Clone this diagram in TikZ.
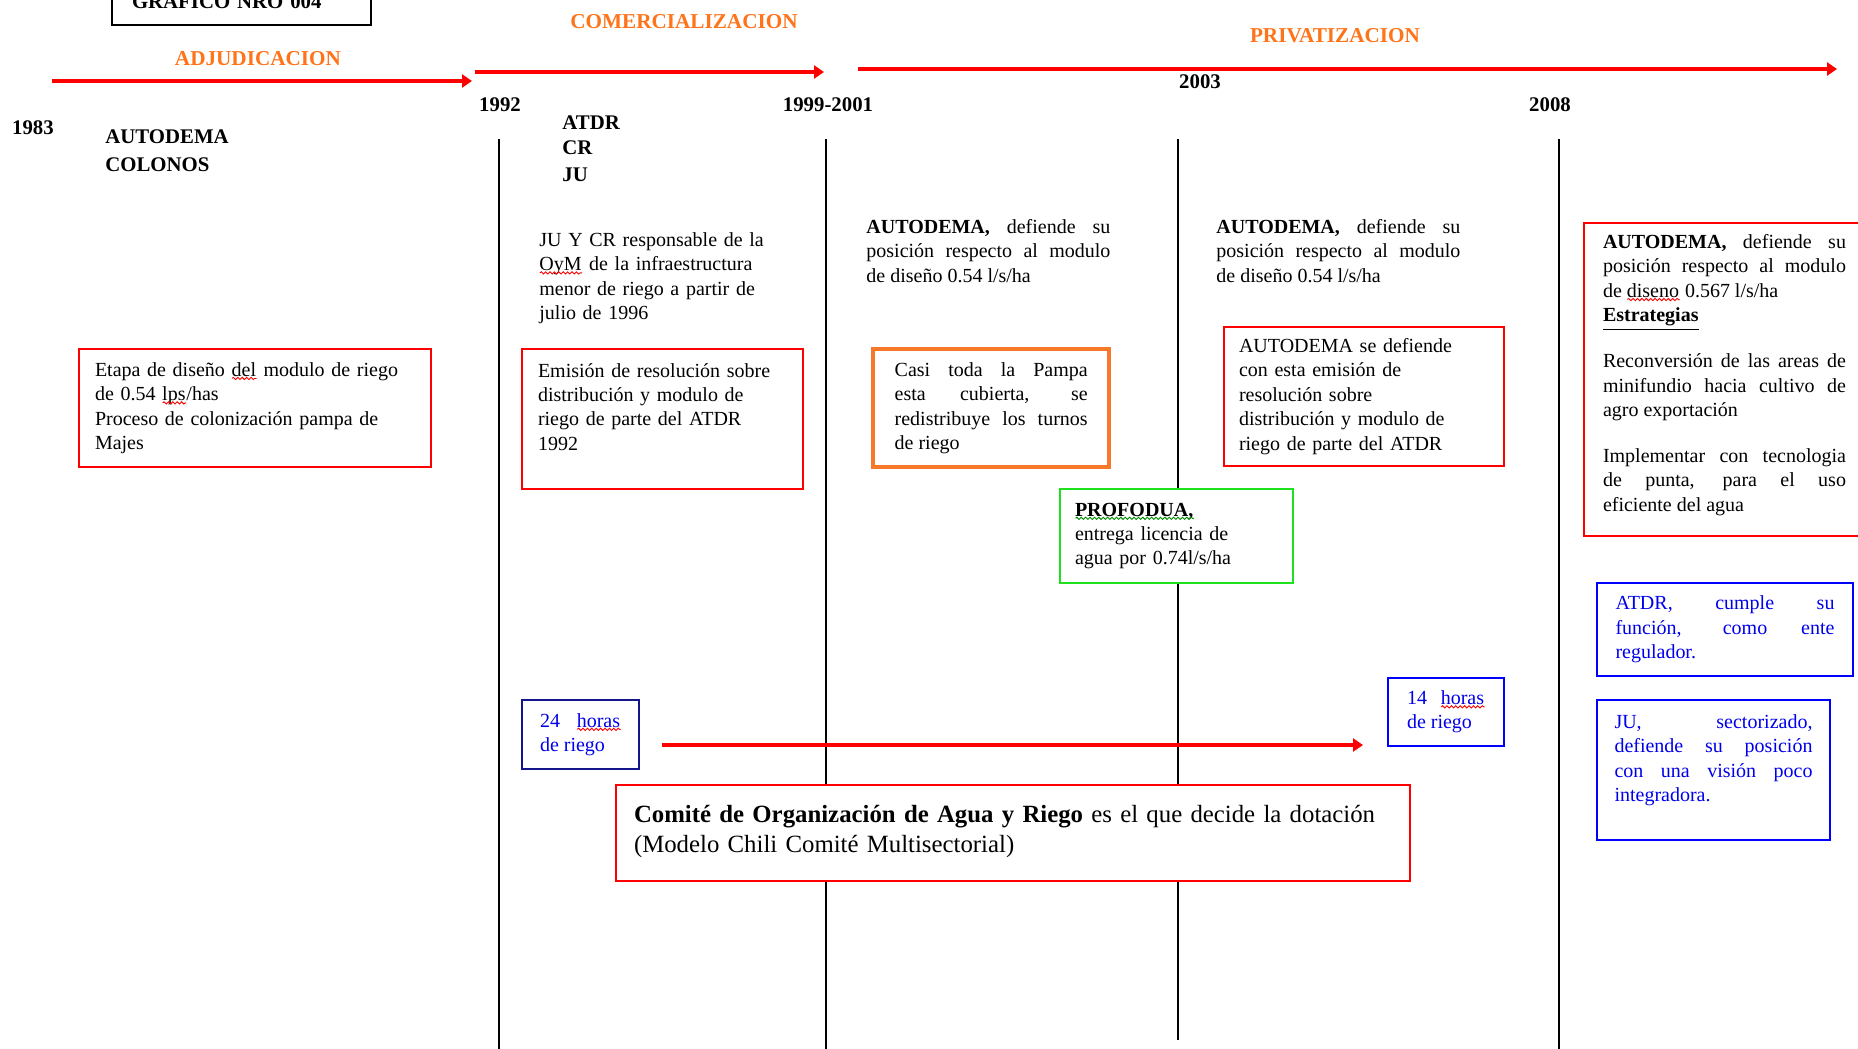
\documentclass[tikz,border=0pt]{standalone}
\usepackage{fontspec}
\setmainfont{Liberation Serif}
\usetikzlibrary{calc,arrows.meta,decorations.pathmorphing}

\definecolor{naranja}{RGB}{255,115,25}
\definecolor{borde}{RGB}{247,120,40}
\definecolor{verde}{RGB}{30,225,30}
\definecolor{azul}{RGB}{0,0,235}
\definecolor{marino}{RGB}{20,20,140}

%% wavy spell-check marks
\newlength\wavelen
\newcommand\wavy[2]{\leavevmode\settowidth\wavelen{#2}\rlap{#2}\raisebox{-1.9pt}[0pt][0pt]{\tikz\draw[#1,line width=.45pt,decorate,
    decoration={snake,amplitude=.55pt,segment length=2.2pt}] (0pt,0pt) -- (\wavelen,0pt);}}
\newcommand\wavered[1]{\wavy{red}{#1}}
\newcommand\wavegreen[1]{\wavy{green!55!black}{#1}}
\hbadness=10000
\hyphenpenalty=10000
\exhyphenpenalty=10000

\begin{document}
\begin{tikzpicture}[x=0.5pt,y=-0.5pt,
    txt/.style={font=\fontsize{10}{12.2}\selectfont,inner sep=0pt,anchor=north west},
    caja/.style={txt,draw=#1,fill=white,line width=1pt,inner xsep=9.5pt},
    fase/.style={draw=red,line width=1.8pt,-{Triangle[length=5pt,width=6.5pt]}},
    etapa/.style={font=\fontsize{10.6}{12}\selectfont\bfseries,text=naranja,inner sep=0pt},
    anio/.style={font=\fontsize{10.4}{12}\selectfont\bfseries,inner sep=0pt},
    actor/.style={anio,anchor=west}]

  \useasboundingbox (0,0) rectangle (1858,1049);

  %% Title box (cut by the page top)
  \node[draw,line width=1pt,anchor=south west,minimum height=23pt,text width=109.5pt,
        inner xsep=10pt,align=left,font=\fontsize{10.4}{12}\selectfont\bfseries] (grafico) at (111,26) {GRAFICO NRO 004};

  %% Phases and their arrows
  \node[etapa] (adjudicacion) at (258,59) {ADJUDICACION};
  \node[etapa] (comercializacion) at (684,22) {COMERCIALIZACION};
  \node[etapa] (privatizacion) at (1335,36) {PRIVATIZACION};
  \foreach \n/\xa/\xb/\y/\w in {1/52/472/81/1.8,2/475/824/72/1.8,3/858/1837/69/2.2}{
    \coordinate (s\n) at (\xa,\y);
    \coordinate (e\n) at (\xb,\y);
    \draw[fase,line width=\w pt] (s\n) -- (e\n);
  }

  %% Years
  \foreach \t/\x/\y in {1983/33/128,1992/500/105,1999-2001/828/105,2003/1200/82,2008/1550/105}{
    \node[anio] (y\t) at (\x,\y) {\t};
  }

  %% Actors
  \foreach \t/\x/\y in {AUTODEMA/105/137,COLONOS/105/165,ATDR/562/123,CR/562/148,JU/562/175}{
    \node[actor] (\t) at (\x,\y) {\t};
  }

  %% Vertical year lines
  \foreach \x/\y in {499/1049,826/1049,1178/1040,1559/1049}{
    \draw[line width=1pt] (\x,139) -- (\x,\y);
  }

  %% Texts without frame
  \node[txt,text width=122pt,align=left] (jucr) at (539,232) {JU Y CR responsable de la\\\wavered{OyM} de la infraestructura\\menor de riego a partir de\\julio de 1996};
  \node[txt,text width=122pt,align=justify] (modulo1) at (866,219) {\textbf{AUTODEMA,} defiende su\linebreak posición respecto al modulo\linebreak de diseño 0.54 l/s/ha};
  \node[txt,text width=122pt,align=justify] (modulo2) at (1216,219) {\textbf{AUTODEMA,} defiende su\linebreak posición respecto al modulo\linebreak de diseño 0.54 l/s/ha};

  %% Framed boxes
  \node[caja=red,text width=160pt,minimum height=59pt,inner xsep=8pt,align=left] (etapa) at (78,348) {Etapa de diseño \wavered{del} modulo de riego\\de 0.54 \wavered{lps}/has\\Proceso de colonización pampa de\\Majes};
  \node[caja=red,text width=124.5pt,inner xsep=8pt,inner ysep=6pt,text height=8pt,text depth=50pt,align=left] (emision) at (521,348) {Emisión de resolución sobre\\distribución y modulo de\\riego de parte del ATDR\\1992};
  \node[caja=borde,line width=2.2pt,text width=96.5pt,minimum height=59pt,inner xsep=10.75pt,align=justify] (pampa) at (871,347) {Casi toda la Pampa\linebreak esta cubierta, se\linebreak redistribuye los turnos\linebreak de riego};
  \node[caja=red,text width=125pt,minimum height=69.5pt,inner xsep=7.5pt,align=left] (defiende) at (1223,326) {AUTODEMA se defiende\\con esta emisión de\\resolución sobre\\distribución y modulo de\\riego de parte del ATDR};
  \node[caja=verde,text width=101.5pt,minimum height=47pt,inner xsep=7.5pt,align=left] (profodua) at (1059,488) {\wavegreen{\textbf{PROFODUA,}}\\entrega licencia de\\agua por 0.74l/s/ha};
  \node[caja=red,text width=121.5pt,inner ysep=5pt,text height=7.75pt,text depth=138.75pt,align=justify] (estrategia) at (1583,222) {\textbf{AUTODEMA,} defiende su\linebreak posición respecto al modulo\linebreak de \wavered{diseno} 0.567 l/s/ha\par\underline{\textbf{Estrategias}}\par\vspace{10.8pt}Reconversión de las areas de\linebreak minifundio hacia cultivo de\linebreak agro exportación\par\vspace{10.8pt}Implementar con tecnologia\linebreak de punta, para el uso\linebreak eficiente del agua};
  \node[caja=blue,text=azul,text width=109.5pt,minimum height=46.5pt,inner xsep=9.25pt,align=justify] (atdr) at (1596,582) {ATDR, cumple su\linebreak función, como ente\linebreak regulador.};
  \node[caja=blue,text=azul,text width=99pt,inner xsep=8.75pt,inner ysep=6pt,text height=8.25pt,text depth=49.75pt,align=justify] (juvision) at (1596,699) {JU, sectorizado,\linebreak defiende su posición\linebreak con una visión poco\linebreak integradora.};
  \node[caja=marino,text=azul,text width=40.5pt,minimum height=34.5pt,inner xsep=9pt,align=justify] (h24) at (521,699) {24 \wavered{horas}\linebreak de riego};
  \node[caja=blue,text=azul,text width=39pt,minimum height=34pt,align=justify] (h14) at (1387,677) {14 \wavered{horas}\linebreak de riego};
  \node[caja=red,text width=379pt,inner xsep=9pt,inner ysep=6pt,text height=12.5pt,text depth=23.5pt,align=left,font=\fontsize{12.4}{15.4}\selectfont] (comite) at (615,784) {\textbf{Comité de Organización de Agua y Riego} es el que decide la dotación\\(Modelo Chili Comité Multisectorial)};

  %% From 24 to 14 hours
  \coordinate (hra) at (662,745);
  \coordinate (hrb) at (1363,745);
  \draw[fase] (hra) -- (hrb);

\end{tikzpicture}
\end{document}
